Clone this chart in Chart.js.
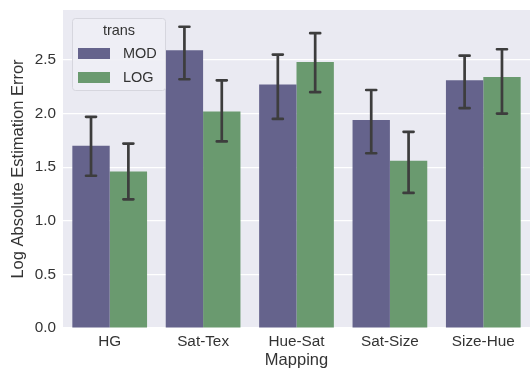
<!DOCTYPE html>
<html>
<head>
<meta charset="utf-8">
<script src="https://cdn.jsdelivr.net/npm/chart.js@4"></script>
<style>
  html, body { margin: 0; padding: 0; background: #fff; }
  #wrap { width: 530px; height: 374px; }
</style>
</head>
<body>
<div id="wrap"><canvas id="c" width="530" height="374"></canvas></div>
<script>
// categories and series
const categories = ['HG', 'Sat-Tex', 'Hue-Sat', 'Sat-Size', 'Size-Hue'];
const seriesNames = ['MOD', 'LOG'];
const modValues = [1.70, 2.59, 2.27, 1.94, 2.31];
const logValues = [1.46, 2.02, 2.48, 1.56, 2.34];
// error bar ends (low / high)
const modLow  = [1.42, 2.32, 1.95, 1.63, 2.05];
const modHigh = [1.97, 2.81, 2.55, 2.22, 2.54];
const logLow  = [1.20, 1.74, 2.20, 1.26, 2.00];
const logHigh = [1.72, 2.31, 2.75, 1.83, 2.60];
const yTicks = [0, 0.5, 1.0, 1.5, 2.0, 2.5];

const colors = ['#65638c', '#6a9a6f'];
const FONT = '"Liberation Sans", Arial, sans-serif';

const plotBg = {
  id: 'plotBg',
  beforeDraw(chart) {
    const a = chart.chartArea, ctx = chart.ctx;
    ctx.save();
    ctx.fillStyle = '#eaeaf2';
    ctx.fillRect(a.left, a.top, a.right - a.left, a.bottom - a.top);
    ctx.restore();
  }
};

const errorBars = {
  id: 'errorBars',
  afterDatasetsDraw(chart) {
    const ctx = chart.ctx, ys = chart.scales.y;
    const ranges = [[modLow, modHigh], [logLow, logHigh]];
    ctx.save();
    ctx.strokeStyle = '#3d3d3d';
    ctx.lineWidth = 2.7;
    ctx.lineCap = 'round';
    chart.data.datasets.forEach(function (ds, i) {
      chart.getDatasetMeta(i).data.forEach(function (bar, j) {
        const lo = ys.getPixelForValue(ranges[i][0][j]);
        const hi = ys.getPixelForValue(ranges[i][1][j]);
        const x = bar.x;
        ctx.beginPath();
        ctx.moveTo(x, lo); ctx.lineTo(x, hi);
        ctx.moveTo(x - 5, lo); ctx.lineTo(x + 5, lo);
        ctx.moveTo(x - 5, hi); ctx.lineTo(x + 5, hi);
        ctx.stroke();
      });
    });
    ctx.restore();
  }
};

// seaborn-like legend box inside the axes
const boxLegend = {
  id: 'boxLegend',
  afterDraw(chart) {
    const ctx = chart.ctx, a = chart.chartArea;
    const x0 = a.left + 9, y0 = a.top + 8, w = 93, h = 72;
    ctx.save();
    ctx.fillStyle = 'rgba(238,238,245,0.9)';
    ctx.strokeStyle = '#d6d6de';
    ctx.lineWidth = 1;
    ctx.beginPath();
    ctx.roundRect(x0 + 0.5, y0 + 0.5, w, h, 3);
    ctx.fill(); ctx.stroke();
    ctx.fillStyle = '#333';
    ctx.font = '14.5px ' + FONT;
    ctx.textAlign = 'center';
    ctx.textBaseline = 'middle';
    ctx.fillText('trans', x0 + 47, y0 + 13);
    ctx.textAlign = 'left';
    chart.data.datasets.forEach(function (ds, i) {
      const yy = y0 + 35 + i * 24;
      ctx.fillStyle = ds.backgroundColor;
      ctx.fillRect(x0 + 6, yy - 5, 32, 11);
      ctx.fillStyle = '#333';
      ctx.fillText(ds.label, x0 + 51, yy + 1);
    });
    ctx.restore();
  }
};

new Chart(document.getElementById('c').getContext('2d'), {
  type: 'bar',
  data: {
    labels: categories,
    datasets: [
      { label: seriesNames[0], data: modValues, backgroundColor: colors[0] },
      { label: seriesNames[1], data: logValues, backgroundColor: colors[1] }
    ]
  },
  options: {
    responsive: false,
    animation: false,
    layout: { padding: { top: 10, right: 0, left: 0, bottom: 0 } },
    datasets: { bar: { categoryPercentage: 0.8, barPercentage: 1.0 } },
    plugins: { legend: { display: false }, tooltip: { enabled: false } },
    scales: {
      x: {
        grid: { display: false, drawTicks: false },
        border: { display: false },
        ticks: { color: '#333', font: { family: FONT, size: 15.3 }, padding: 5 },
        title: { display: true, text: 'Mapping', color: '#333', font: { family: FONT, size: 16.5 }, padding: { top: 0 } },
        afterFit(s) { s.height = 46; s.paddingLeft = 0; s.paddingRight = 0; }
      },
      y: {
        min: 0, max: 2.966,
        afterBuildTicks(s) { s.ticks = yTicks.map(v => ({ value: v })); },
        grid: { color: '#ffffff', lineWidth: 1.2, drawTicks: false },
        border: { display: false },
        ticks: { color: '#333', font: { family: FONT, size: 15.3 }, padding: 7,
                 callback: v => Number(v).toFixed(1) },
        title: { display: true, text: 'Log Absolute Estimation Error', color: '#333', font: { family: FONT, size: 16.5 }, padding: { top: 9, bottom: 0 } },
        afterFit(s) { s.width = 63; s.paddingTop = 0; s.paddingBottom = 0; }
      }
    }
  },
  plugins: [plotBg, errorBars, boxLegend]
});
</script>
</body>
</html>
